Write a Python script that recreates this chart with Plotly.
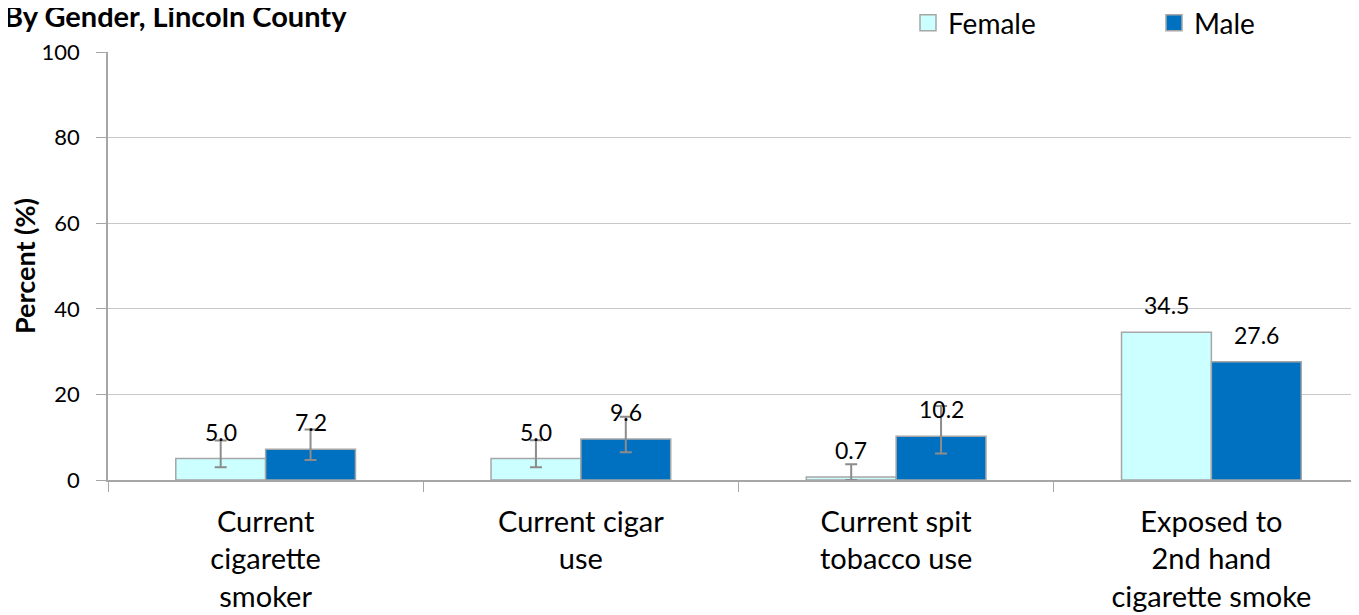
import plotly.graph_objects as go

categories = ["Current<br>cigarette<br>smoker", "Current cigar<br>use", "Current spit<br>tobacco use", "Exposed to<br>2nd hand<br>cigarette smoke"]
female = [5.0, 5.0, 0.7, 34.5]
male = [7.2, 9.6, 10.2, 27.6]
# 95% CI bounds (none shown for the last category)
female_hi = [9.2, 9.3, 3.7, None]
female_lo = [3.0, 3.0, 0.0, None]
male_hi = [11.8, 14.8, 17.3, None]
male_lo = [4.7, 6.5, 6.2, None]
y_ticks = [0, 20, 40, 60, 80, 100]

FONT = "Lato, Open Sans, sans-serif"
GRAY = "#A6A6A6"
ERR = "#8C8C8C"
F_COL = "#CCFFFF"
M_COL = "#0070C0"

fig = go.Figure()

def add_series(name, vals, hi, lo, color):
    with_ci = [i for i, h in enumerate(hi) if h is not None]
    no_ci = [i for i, h in enumerate(hi) if h is None]
    fig.add_trace(go.Bar(
        name=name, x=[categories[i] for i in with_ci], y=[vals[i] for i in with_ci],
        offsetgroup=name, showlegend=False,
        marker=dict(color=color, line=dict(color=GRAY, width=1.5)),
        error_y=dict(type="data", symmetric=False,
                     array=[hi[i] - vals[i] for i in with_ci],
                     arrayminus=[vals[i] - lo[i] for i in with_ci],
                     color=ERR, thickness=2, width=6),
    ))
    fig.add_trace(go.Bar(
        name=name, x=[categories[i] for i in no_ci], y=[vals[i] for i in no_ci],
        offsetgroup=name, showlegend=False,
        marker=dict(color=color, line=dict(color=GRAY, width=1.5)),
    ))

add_series("Female", female, female_hi, female_lo, F_COL)
add_series("Male", male, male_hi, male_lo, M_COL)

# legend entries
fig.add_trace(go.Scatter(name="Female", x=[None], y=[None], mode="markers",
                         marker=dict(symbol="square", size=17, color=F_COL,
                                     line=dict(color=GRAY, width=1.5)),
                         legend="legend"))
fig.add_trace(go.Scatter(name="Male", x=[None], y=[None], mode="markers",
                         marker=dict(symbol="square", size=17, color=M_COL,
                                     line=dict(color=GRAY, width=1.5)),
                         legend="legend2"))

for vals, shift in ((female, -45), (male, 45)):
    for c, v in zip(categories, vals):
        fig.add_annotation(x=c, y=v, text=f"{v:.1f}", showarrow=False,
                           xshift=shift, yshift=27, yanchor="middle",
                           font=dict(family=FONT, size=23, color="black"))

fig.add_annotation(xref="paper", yref="paper", x=0, y=1.0, xshift=-106, yshift=37,
                   xanchor="left", yanchor="middle", showarrow=False,
                   text="<b>By Gender, Lincoln County</b>",
                   font=dict(family=FONT, size=29, color="black"))

# page body adds an 8px offset; plot area spans 108..1367 x, 52..480 y on screen
PL, PT, PW, PH = 100, 44, 1259, 428
leg_font = dict(family=FONT, size=28, color="black")
fig.update_layout(
    width=1359, height=615,
    margin=dict(l=PL, r=0, t=PT, b=615 - PT - PH, autoexpand=False),
    plot_bgcolor="white", paper_bgcolor="white",
    barmode="group", bargap=0.43, bargroupgap=0,
    font=dict(family=FONT, color="black"),
    showlegend=True,
    legend=dict(x=(900 - PL) / PW, y=1 + 29 / PH, xanchor="left", yanchor="middle",
                font=leg_font, bgcolor="rgba(0,0,0,0)"),
    legend2=dict(x=(1146 - PL) / PW, y=1 + 29 / PH, xanchor="left", yanchor="middle",
                 font=leg_font, bgcolor="rgba(0,0,0,0)"),
    xaxis=dict(range=[-0.5, -0.5 + PW / 315.25], showline=True, linecolor=GRAY, linewidth=1.5,
               ticks="outside", tickson="boundaries", ticklen=10, tickcolor=GRAY,
               ticklabelstandoff=15,
               tickfont=dict(family=FONT, size=29, color="black"),
               showgrid=False, zeroline=False),
    yaxis=dict(range=[0, 100], tickvals=y_ticks, showline=True, linecolor=GRAY,
               linewidth=1.5, ticks="outside", ticklen=10, tickcolor=GRAY,
               ticklabelstandoff=12,
               gridcolor="#C8C8C8", gridwidth=1.2, zeroline=False,
               tickfont=dict(family=FONT, size=22, color="black"),
               title=dict(text="<b>Percent (%)</b>", standoff=6,
                          font=dict(family=FONT, size=27, color="black"))),
)

fig.write_html("out.html")
